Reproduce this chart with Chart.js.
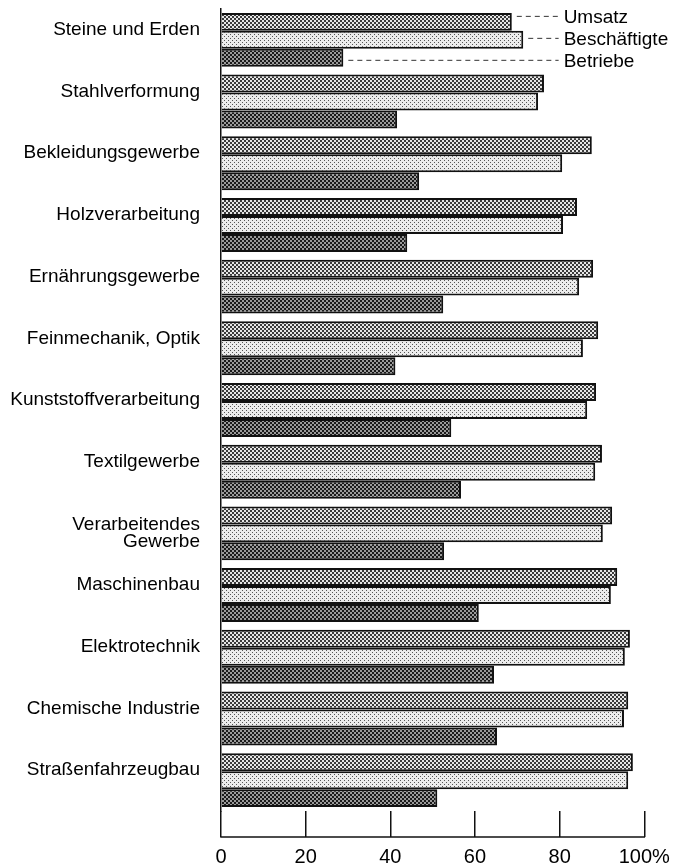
<!DOCTYPE html>
<html>
<head>
<meta charset="utf-8">
<script src="https://cdn.jsdelivr.net/npm/chart.js@4"></script>
<style>
  html, body { margin: 0; padding: 0; background: #fff; }
  #wrap { width: 679px; height: 865px; }
</style>
</head>
<body>
<div id="wrap"><canvas id="barChart" width="679" height="865"></canvas></div>
<script>
const FONT = "'Liberation Sans', Arial, Helvetica, sans-serif";

/* ===== DATA ===== */
const categories = [
  "Steine und Erden",
  "Stahlverformung",
  "Bekleidungsgewerbe",
  "Holzverarbeitung",
  "Ernährungsgewerbe",
  "Feinmechanik, Optik",
  "Kunststoffverarbeitung",
  "Textilgewerbe",
  ["Verarbeitendes", "Gewerbe"],
  "Maschinenbau",
  "Elektrotechnik",
  "Chemische Industrie",
  "Straßenfahrzeugbau"
];
const seriesNames = ["Umsatz", "Beschäftigte", "Betriebe"];
const umsatz       = [68.7, 76.3, 87.6, 84.1, 87.9, 89.1, 88.6, 90.0, 92.4, 93.6, 96.6, 96.2, 97.3];
const beschaeftigte = [71.4, 74.9, 80.6, 80.8, 84.6, 85.5, 86.5, 88.4, 90.2, 92.1, 95.4, 95.2, 96.2];
const betriebe     = [28.9, 41.6, 46.8, 44.0, 52.5, 41.2, 54.4, 56.7, 52.7, 60.9, 64.5, 65.2, 51.1];
const xTickLabels = ["0", "20", "40", "60", "80", "100%"];

/* ===== PATTERNS ===== */
function dotPattern(bg, dot, size) {
  const c = document.createElement("canvas");
  c.width = 4; c.height = 4;
  const g = c.getContext("2d");
  g.fillStyle = bg;
  g.fillRect(0, 0, 4, 4);
  g.fillStyle = dot;
  g.fillRect(0, 0, size, size);
  g.fillRect(2, 2, size, size);
  return g.createPattern(c, "repeat");
}
const fills = [
  dotPattern("#e6e6e6", "#3a3a3a", 2),
  dotPattern("#ececec", "#555555", 1),
  dotPattern("#9a9a9a", "#1a1a1a", 2)
];

/* labels at the first category, with dashed leaders */
const seriesLabels = {
  id: "seriesLabels",
  afterDatasetsDraw(chart) {
    const ctx = chart.ctx;
    const xs = chart.scales.x;
    const textX = xs.getPixelForValue(80) + 4;
    ctx.save();
    ctx.font = "19px " + FONT;
    ctx.textBaseline = "middle";
    ctx.textAlign = "left";
    seriesNames.forEach((name, i) => {
      const bar = chart.getDatasetMeta(i).data[0];
      const y = bar.y + (i - 1) * 4 - 1.5;
      ctx.strokeStyle = "#333";
      ctx.lineWidth = 1;
      ctx.setLineDash([5, 4]);
      ctx.beginPath();
      ctx.moveTo(bar.x + 5, y);
      ctx.lineTo(textX - 5, y);
      ctx.stroke();
      ctx.setLineDash([]);
      ctx.fillStyle = "#000";
      ctx.fillText(name, textX, y + 1.5);
    });
    ctx.restore();
  }
};

/* horizontal base line under the tick marks */
const baseLine = {
  id: "baseLine",
  afterDraw(chart) {
    const xs = chart.scales.x;
    const y = xs.top + 26;
    const ctx = chart.ctx;
    ctx.save();
    ctx.strokeStyle = "#111";
    ctx.lineWidth = 1.5;
    ctx.beginPath();
    ctx.moveTo(xs.getPixelForValue(0) - 0.75, y);
    ctx.lineTo(xs.getPixelForValue(100) + 0.75, y);
    ctx.stroke();
    ctx.restore();
  }
};

const border = { top: 2, bottom: 2, right: 2, left: 0 };

new Chart(document.getElementById("barChart"), {
  type: "bar",
  data: {
    labels: categories.map(c => Array.isArray(c) ? c : [c, ""]),
    datasets: [umsatz, beschaeftigte, betriebe].map((d, i) => ({
      label: seriesNames[i],
      data: d,
      backgroundColor: fills[i],
      borderColor: "#111",
      borderWidth: border,
      borderSkipped: "start",
      categoryPercentage: 0.874,
      barPercentage: 1.0
    }))
  },
  options: {
    indexAxis: "y",
    responsive: false,
    animation: false,
    layout: { padding: { top: 9, right: 34.7, bottom: 0, left: 0 } },
    plugins: {
      legend: { display: false },
      tooltip: { enabled: false }
    },
    scales: {
      y: {
        grid: { display: false, drawTicks: false },
        border: { display: true, color: "#111", width: 1.5 },
        afterFit: s => {
          s.width = 221;
          s.paddingTop = 0;
          s.paddingBottom = 0;
        },
        ticks: {
          color: "#000",
          padding: 21,
          font: c => ({
            family: FONT,
            size: 19,
            lineHeight: Array.isArray(categories[c.index]) ? 0.86 : 1.05
          })
        }
      },
      x: {
        min: 0,
        max: 100,
        afterFit: s => { s.height = 54; },
        afterBuildTicks: s => {
          s.ticks = xTickLabels.map((t, i) => ({ value: i * 20 }));
        },
        grid: {
          drawOnChartArea: false,
          drawTicks: true,
          tickLength: 26,
          color: "#111",
          lineWidth: 1.5
        },
        border: { display: false },
        ticks: {
          color: "#000",
          padding: 8,
          maxRotation: 0,
          font: { family: FONT, size: 20 },
          callback: (v, i) => xTickLabels[i]
        }
      }
    }
  },
  plugins: [seriesLabels, baseLine]
});
</script>
</body>
</html>
